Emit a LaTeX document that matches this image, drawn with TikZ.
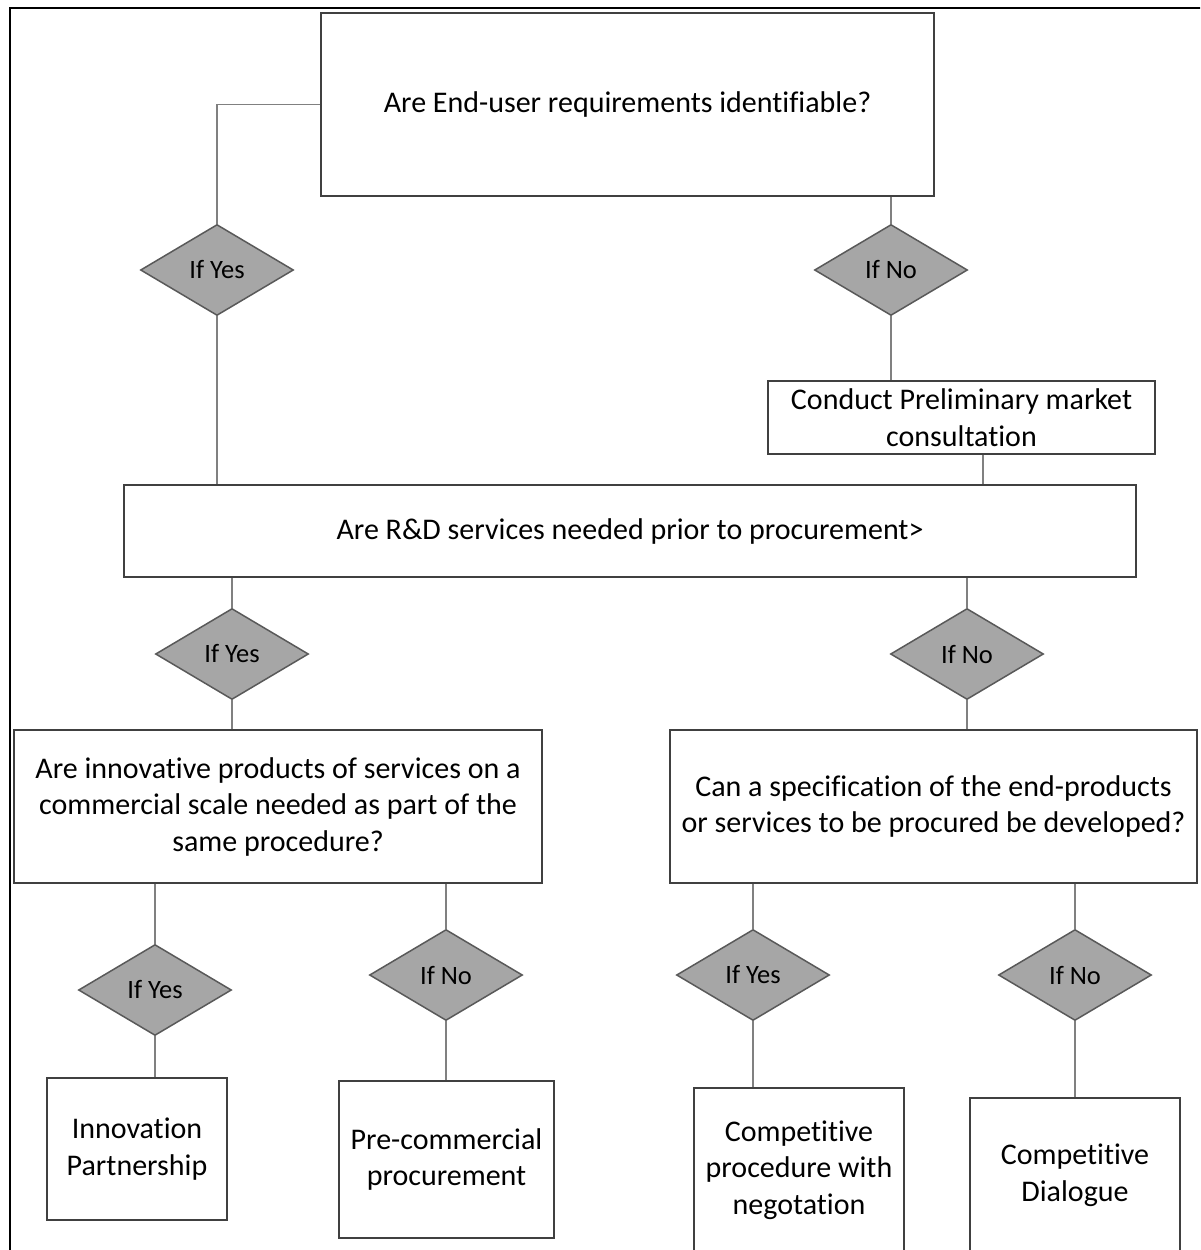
\documentclass[tikz,border=0pt]{standalone}
\usepackage{fontspec}
\setmainfont{Carlito}[Ligatures=NoCommon]
\usetikzlibrary{shapes.geometric}
\begin{document}
\begin{tikzpicture}[x=1pt,y=-1pt,
  every node/.style={text=black},
  box/.style={draw=black!75, line width=1.8pt, rectangle, inner sep=0pt, align=center,
    font=\fontsize{30}{36.5}\selectfont},
  dec/.style={draw=black!65, line width=1.5pt, fill=black!35, diamond, inner sep=0pt,
    minimum width=153pt, minimum height=91pt, aspect=1.68, font=\fontsize{26.5}{32}\selectfont},
  conn/.style={draw=black!50, line width=1.5pt},
  frame/.style={draw=black, line width=2pt}]
\clip (0,0) rectangle (1200,1250);
\fill[white] (0,0) rectangle (1200,1250);
\draw[frame] (10,1270) -- (10,8) -- (1220,8);

% boxes
\node[box, minimum width=613pt, minimum height=183pt] (q1) at (627.5,104.5) {Are End-user requirements identifiable?};
\node[box, minimum width=387pt, minimum height=73pt] (c) at (961.5,417.5) {Conduct Preliminary market\\consultation};
\node[box, minimum width=1012pt, minimum height=92pt] (q2) at (630,531) {Are R\&D services needed prior to procurement>};
\node[box, minimum width=528pt, minimum height=153pt] (q3) at (278,806.5) {Are innovative products of services on a\\commercial scale needed as part of the\\same procedure?};
\node[box, minimum width=527pt, minimum height=153pt] (q4) at (933.5,806.5) {Can a specification of the end-products\\or services to be procured be developed?};
\node[box, minimum width=180pt, minimum height=142pt] (r1) at (137,1149) {Innovation\\Partnership};
\node[box, minimum width=215pt, minimum height=157pt] (r2) at (446.5,1159.5) {Pre-commercial\\procurement};
\node[box, minimum width=210pt, minimum height=164pt] (r3) at (799,1170) {Competitive\\procedure with\\negotation};
\node[box, minimum width=210pt, minimum height=154pt] (r4) at (1075,1175) {Competitive\\Dialogue};

% diamonds
\node[dec] (y1) at (217,270) {If Yes};
\node[dec] (n1) at (891,270) {If No};
\node[dec] (y2) at (232,654) {If Yes};
\node[dec] (n2) at (967,654) {If No};
\node[dec] (y3) at (155,990) {If Yes};
\node[dec] (n3) at (446,975) {If No};
\node[dec] (y4) at (753,975) {If Yes};
\node[dec] (n4) at (1075,975) {If No};

% connectors
\draw[conn] (q1.west) -| (y1.north);
\draw[conn] (y1.south) -- (y1.south |- q2.north);
\draw[conn] (q1.south -| n1.north) -- (n1.north);
\draw[conn] (n1.south) -- (n1.south |- c.north);
\draw[conn] ([xshift=21.5pt]c.south) -- ([xshift=21.5pt]c.south |- q2.north);
\draw[conn] (q2.south -| y2.north) -- (y2.north);
\draw[conn] (y2.south) -- (y2.south |- q3.north);
\draw[conn] (q2.south -| n2.north) -- (n2.north);
\draw[conn] (n2.south) -- (n2.south |- q4.north);
\draw[conn] (q3.south -| y3.north) -- (y3.north);
\draw[conn] (y3.south) -- (y3.south |- r1.north);
\draw[conn] (q3.south -| n3.north) -- (n3.north);
\draw[conn] (n3.south) -- (n3.south |- r2.north);
\draw[conn] (q4.south -| y4.north) -- (y4.north);
\draw[conn] (y4.south) -- (y4.south |- r3.north);
\draw[conn] (q4.south -| n4.north) -- (n4.north);
\draw[conn] (n4.south) -- (n4.south |- r4.north);
\end{tikzpicture}
\end{document}
